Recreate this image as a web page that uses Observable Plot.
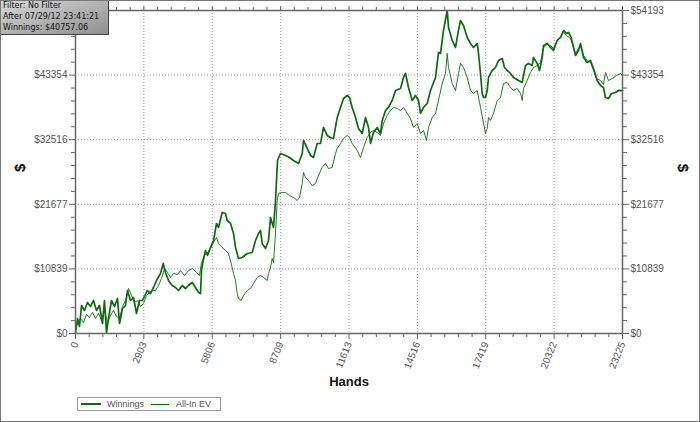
<!DOCTYPE html>
<html>
<head>
<meta charset="utf-8">
<script src="https://cdn.jsdelivr.net/npm/d3@7"></script>
<script src="https://cdn.jsdelivr.net/npm/@observablehq/plot@0.6"></script>
<style>
  html, body { margin: 0; padding: 0; background: #fff; }
  #wrap { position: relative; width: 700px; height: 422px; overflow: hidden; font-family: "Liberation Sans", Arial, sans-serif; }
  #border { position: absolute; left: 0; top: 0; width: 700px; height: 422px; box-sizing: border-box; border: 1px solid #777; pointer-events: none; }
  #infobox { position: absolute; left: 0; top: 0; width: 109px; height: 35px; box-sizing: border-box; border: 1px solid #444;
          background: linear-gradient(to bottom right, #d8d8d8, #8e8e8e); }
  .infoline { position: absolute; left: 3px; height: 10px; font-family: "DejaVu Sans", sans-serif; font-size: 8px;
          color: #111; line-height: 10px; white-space: nowrap; }
  #legend { position: absolute; left: 77px; top: 397px; width: 144px; height: 14px; box-sizing: border-box; border: 1px solid #999;
            background: #fff; font-size: 9px; color: #555; }
  #legend .item { position: absolute; top: 0; height: 12px; line-height: 12px; }
  #legend .sw { position: absolute; top: 6px; height: 0; }
</style>
</head>
<body>
<div id="wrap">
  <div id="chart"></div>
  <div id="infobox"></div>
  <div id="legend"></div>
  <div id="border"></div>
</div>
<script>
// ---- data ----
const seriesNames = ["Winnings", "All-In EV"];
const infoLines = ["Filter: No Filter", "After 07/29/12 23:41:21", "Winnings: $40757.06"];
const xTicks = [0, 2903, 5806, 8709, 11613, 14516, 17419, 20322, 23225];
const yTicks = [0, 10839, 21677, 32516, 43354, 54193];

const winHands = [0,85,170,255,382,510,637,764,892,1019,1146,1231,1316,1401,1529,1656,1783,1868,1996,2123,2208,2335,2463,2590,2717,2845,3044,3185,3312,3439,3609,3724,3821,3949,4106,4246,4373,4530,4671,4798,4955,5095,5223,5308,5350,5422,5520,5605,5732,5859,5987,6072,6229,6369,6441,6581,6709,6794,6921,7078,7291,7503,7643,7770,7855,7927,8067,8195,8280,8407,8492,8577,8704,8917,9086,9256,9469,9626,9681,9838,9978,10105,10263,10403,10530,10687,10827,10955,11112,11252,11379,11536,11634,11749,11889,12016,12173,12313,12441,12526,12653,12810,12950,13023,13163,13290,13447,13588,13800,13927,14012,14139,14297,14436,14564,14649,14776,14933,15073,15286,15413,15498,15570,15625,15782,15838,15995,16135,16262,16347,16474,16632,16772,16899,17056,17111,17196,17268,17324,17409,17481,17536,17693,17833,17961,18118,18215,18330,18470,18597,18810,18967,19022,19107,19234,19391,19447,19604,19701,19816,19871,20028,20169,20296,20453,20593,20720,20848,20933,21047,21145,21230,21357,21442,21570,21727,21867,21994,22151,22292,22419,22503,22631,22758,22928,23055,23225];
const winDollars = [0,2517,1175,4698,3859,5202,4531,5537,3859,4698,1678,5537,168,2517,5537,4531,5873,1678,4195,4698,7215,5537,6041,3356,5537,5537,7215,6712,7719,8893,10068,11746,10236,8893,8054,7719,7215,8054,7551,8054,8558,7719,6880,6712,10571,12249,13927,13088,14431,15605,18458,17787,20304,20136,18961,18458,16780,14431,12585,12753,13424,13592,15605,16780,17283,15102,14263,15605,19465,17787,22317,29029,30204,29868,29533,29029,28526,30204,32385,31043,29868,29533,31882,31882,34567,33224,32889,32721,36245,37923,39433,39936,39601,37923,36245,34399,33560,36245,34567,31882,33728,34567,33560,35741,37419,37923,39097,40775,41111,42957,43628,41279,39097,39936,39097,36916,37923,38594,40775,42957,47152,46984,49165,50843,54193,51347,49165,47991,50843,52521,51682,49669,48662,47991,48662,46984,43628,40272,39601,39601,40775,42957,44131,44635,45809,46145,44635,44131,43628,42957,42453,42118,43292,44970,45306,44970,46313,45306,44131,46313,48326,48662,47991,47487,49165,49669,50843,50340,50508,49669,47991,46648,47487,48662,46313,45474,45809,44467,42453,41614,41279,39601,39433,40272,40440,40775,40757];

const evHands = [0,85,212,340,467,594,722,849,977,1104,1231,1359,1486,1613,1741,1868,1996,2123,2250,2378,2505,2633,2760,2887,3015,3142,3269,3397,3524,3652,3779,3906,4034,4161,4331,4458,4628,4798,4968,5138,5265,5350,5477,5605,5732,5859,5987,6072,6229,6369,6496,6653,6709,6794,6866,6921,7036,7133,7291,7431,7558,7715,7855,7982,8140,8195,8280,8352,8407,8492,8564,8619,8776,8917,9086,9256,9413,9511,9626,9681,9766,9893,10050,10190,10318,10475,10615,10742,10899,11040,11112,11252,11379,11536,11634,11749,11962,12101,12228,12385,12526,12653,12810,12950,13078,13235,13375,13502,13659,13800,13927,14084,14224,14351,14509,14649,14776,14903,14988,15145,15286,15413,15570,15710,15782,15838,15995,16135,16262,16347,16474,16632,16772,16899,17056,17196,17324,17409,17481,17536,17621,17748,17906,18046,18173,18330,18470,18597,18755,18895,18967,19022,19179,19319,19447,19604,19744,19871,20028,20169,20296,20453,20593,20720,20848,21018,21145,21230,21357,21442,21570,21727,21867,21994,22122,22292,22419,22503,22631,22801,22970,23140,23225];
const evDollars = [503,1846,2517,1846,3188,2685,3524,2517,3356,2181,3859,1846,3020,3859,2853,2517,4531,5537,7551,6376,5202,5537,4531,5034,6376,6880,7215,7215,8054,9229,10907,10236,9397,10068,9900,10571,9732,10571,10907,10236,9732,11914,13088,13592,14263,15270,16109,15102,14431,13927,13424,11075,10068,8893,6712,5873,5537,6376,7215,7551,8390,9397,9732,9397,8893,10068,11075,12585,11914,16780,22317,23492,23660,23660,23156,22821,22317,22821,25170,27016,26177,25673,24834,25170,26512,27855,28526,27687,27855,30204,31043,31882,32721,33224,32889,31882,30707,29533,31211,32889,33728,34063,33728,33224,35238,36580,37419,37923,37755,37419,37923,36916,36077,34567,35238,33560,34063,32385,34567,36245,36916,39097,41950,43628,46984,44635,41950,40775,43628,45306,44635,42957,40775,40272,40775,37923,35238,33560,34399,36245,35741,36916,39097,39601,41950,42118,41279,40775,41111,40272,39097,41111,42453,43796,44635,44970,45474,47991,48494,48326,47823,49165,49669,50508,50004,49501,47991,46984,47823,48326,46648,45809,45474,44131,42789,42453,41782,43796,42453,42789,43292,43628,43292];

// ---- build tables ----
const rows = [];
winHands.forEach((h, i) => rows.push({series: seriesNames[0], hands: h, dollars: winDollars[i]}));
evHands.forEach((h, i) => rows.push({series: seriesNames[1], hands: h, dollars: evDollars[i]}));

function subdivide(ticks, n) {
  const out = [];
  for (let i = 0; i < ticks.length - 1; i++)
    for (let k = 1; k < n; k++) out.push(ticks[i] + (ticks[i + 1] - ticks[i]) * k / n);
  return out;
}
const xMinor = subdivide(xTicks, 5);
const yMinor = subdivide(yTicks, 5);

const green = "#0f6a12";
const axisColor = "#666";
const labelColor = "#555";

const plot = Plot.plot({
  width: 700,
  height: 422,
  marginLeft: 75,
  marginRight: 78,
  marginTop: 10,
  marginBottom: 89,
  style: {background: "#fff", fontFamily: "Liberation Sans, Arial, sans-serif", fontSize: "10px", color: labelColor},
  x: {domain: [xTicks[0], xTicks[xTicks.length - 1]], label: null},
  y: {domain: [yTicks[0], yTicks[yTicks.length - 1]], label: null},
  marks: [
    Plot.gridX(xTicks.slice(1, -1), {stroke: "#9a9a9a", strokeOpacity: 1, strokeDasharray: "1,2"}),
    Plot.gridY(yTicks.slice(1, -1), {stroke: "#9a9a9a", strokeOpacity: 1, strokeDasharray: "1,2"}),
    Plot.line(rows.filter(d => d.series === seriesNames[1]), {x: "hands", y: "dollars", stroke: green, strokeWidth: 0.9}),
    Plot.line(rows.filter(d => d.series === seriesNames[0]), {x: "hands", y: "dollars", stroke: green, strokeWidth: 1.7}),
    Plot.frame({stroke: axisColor, strokeWidth: 1.5}),
    // minor ticks
    Plot.axisX(xMinor, {anchor: "bottom", tickSize: 4, text: null, stroke: axisColor, label: null}),
    Plot.axisX(xMinor, {anchor: "top", tickSize: 4, text: null, stroke: axisColor, label: null}),
    Plot.axisY(yMinor, {anchor: "left", tickSize: 4, text: null, stroke: axisColor, label: null}),
    Plot.axisY(yMinor, {anchor: "right", tickSize: 4, text: null, stroke: axisColor, label: null}),
    // major ticks + labels
    Plot.axisX(xTicks, {anchor: "bottom", tickSize: 6, tickRotate: -68, tickPadding: 3, tickFormat: d => String(d),
      stroke: axisColor, fill: labelColor, label: null, fontSize: 10}),
    Plot.axisX(xTicks, {anchor: "top", tickSize: 5, text: null, stroke: axisColor, label: null}),
    // left: top label sits under the info box in the reference, so only ticks there
    Plot.axisY(yTicks.slice(0, -1), {anchor: "left", tickSize: 6, tickPadding: 2, tickFormat: d => "$" + d, stroke: axisColor, fill: labelColor, label: null}),
    Plot.axisY(yTicks.slice(-1), {anchor: "left", tickSize: 6, text: null, stroke: axisColor, label: null}),
    Plot.axisY(yTicks, {anchor: "right", tickSize: 6, tickPadding: 2, tickFormat: d => "$" + d, stroke: axisColor, fill: labelColor, label: null}),
    // axis titles
    Plot.text(["Hands"], {frameAnchor: "bottom", dy: 52, text: d => d, fontWeight: "bold", fontSize: 13, fill: "#111"}),
    Plot.text(["$"], {frameAnchor: "left", dx: -55, rotate: -90, text: d => d, fontWeight: "bold", fontSize: 15, fill: "#111"}),
    Plot.text(["$"], {frameAnchor: "right", dx: 60, rotate: 90, text: d => d, fontWeight: "bold", fontSize: 15, fill: "#111"})
  ]
});
document.getElementById("chart").appendChild(plot);

// info box lines (separate positioned elements)
const wrap = document.getElementById("wrap");
infoLines.forEach((s, i) => {
  const el = document.createElement("div");
  el.className = "infoline";
  el.style.top = (1 + i * 11) + "px";
  el.textContent = s;
  wrap.insertBefore(el, document.getElementById("legend"));
});

// legend
const legend = document.getElementById("legend");
legend.innerHTML =
  `<div class="sw" style="left:3px;width:20px;border-top:2px solid ${green};top:5px"></div>` +
  `<div class="item" style="left:29px">${seriesNames[0]}</div>` +
  `<div class="sw" style="left:73px;width:18px;border-top:1px solid ${green};top:6px"></div>` +
  `<div class="item" style="left:98px">${seriesNames[1]}</div>`;
</script>
</body>
</html>
